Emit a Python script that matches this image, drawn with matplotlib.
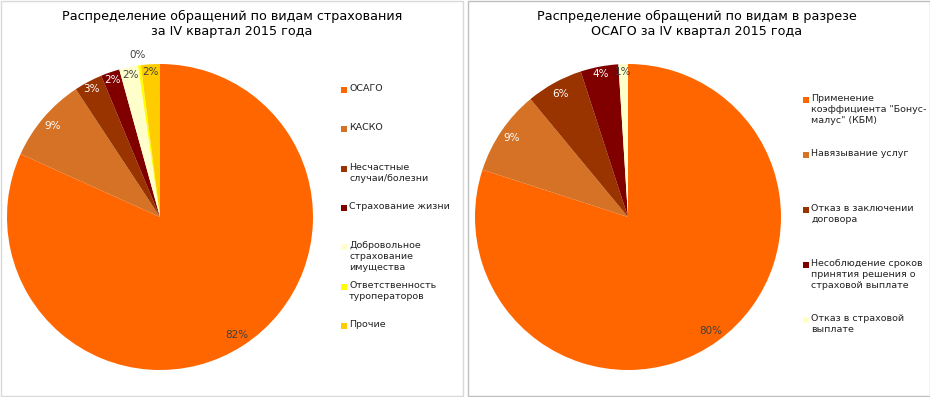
import matplotlib
matplotlib.use("Agg")
import matplotlib.pyplot as plt
import numpy as np
from matplotlib.patches import Rectangle

# Left chart: appeals by insurance type
left_title = "Распределение обращений по видам страхования\nза IV квартал 2015 года"
left_labels = ["ОСАГО", "КАСКО", "Несчастные\nслучаи/болезни", "Страхование жизни",
               "Добровольное\nстрахование\nимущества", "Ответственность\nтуроператоров",
               "Прочие"]
left_values = [82, 9, 3, 2, 2, 0.3, 2]
left_colors = ["#FF6600", "#D57225", "#993300", "#800000", "#FFFFCC", "#FFFF00", "#FFCC00"]

# Right chart: OSAGO appeals by kind
right_title = "Распределение обращений по видам в разрезе\nОСАГО за IV квартал 2015 года"
right_labels = ["Применение\nкоэффициента \"Бонус-\nмалус\" (КБМ)", "Навязывание услуг",
                "Отказ в заключении\nдоговора", "Несоблюдение сроков\nпринятия решения о\nстраховой выплате",
                "Отказ в страховой\nвыплате"]
right_values = [80, 9, 6, 4, 1]
right_colors = ["#FF6600", "#D57225", "#993300", "#800000", "#FFFFCC"]

DARK = {"#993300", "#800000", "#D57225"}

W, H = 930, 397
fig = plt.figure(figsize=(W / 100, H / 100), dpi=100)
fig.patch.set_facecolor("white")


def px(x, y):
    """pixel (top-left origin) -> figure fraction"""
    return x / W, 1 - y / H


def frame(x0, x1, color):
    fig.patches.append(Rectangle(px(x0, H - 1), (x1 - x0) / W, (H - 2) / H,
                                 transform=fig.transFigure, fill=False,
                                 edgecolor=color, lw=1.0))


def draw_pie(cx, cy, r, values, colors, title, tx):
    fx, fy = px(cx - r, cy + r)
    ax = fig.add_axes([fx, fy, 2 * r / W, 2 * r / H])
    wedges, _ = ax.pie(values, colors=colors, startangle=90, counterclock=False,
                       radius=1.0, wedgeprops=dict(linewidth=0))
    ax.set_xlim(-1, 1); ax.set_ylim(-1, 1)
    ax.set_aspect("auto")
    ax.axis("off")
    total = sum(values)
    for w, v, c in zip(wedges, values, colors):
        pct = 100 * v / total
        ang = np.deg2rad((w.theta1 + w.theta2) / 2)
        if pct < 1:
            d = 1.07
        elif pct < 5:
            d = 0.95
        else:
            d = 0.92
        tc = "white" if c in DARK else "#404040"
        ax.text(d * np.cos(ang), d * np.sin(ang), f"{pct:.0f}%", ha="center",
                va="center", fontsize=7.5, color=tc)
    fig.text(*px(tx, 10), title, ha="center", va="top", fontsize=9.2,
             color="black", linespacing=1.2)


def draw_legend(x, y0, step, labels, colors):
    for i, (lab, c) in enumerate(zip(labels, colors)):
        y = y0 + i * step
        fig.patches.append(Rectangle(px(x - 3, y + 3), 6 / W, 6 / H,
                                     transform=fig.transFigure, color=c, lw=0))
        fig.text(*px(x + 5, y - 6), lab, ha="left", va="top", fontsize=6.8,
                 color="#222222", linespacing=1.3)


frame(0.5, 463, "#D9D9D9")
frame(468, 929.5, "#BFBFBF")

draw_pie(160, 217, 153, left_values, left_colors, left_title, 232)
draw_pie(628, 217, 153, right_values, right_colors, right_title, 697)

draw_legend(344, 90, 39.3, left_labels, left_colors)
draw_legend(806, 100, 55, right_labels, right_colors)

fig.savefig("out.png", dpi=100)
